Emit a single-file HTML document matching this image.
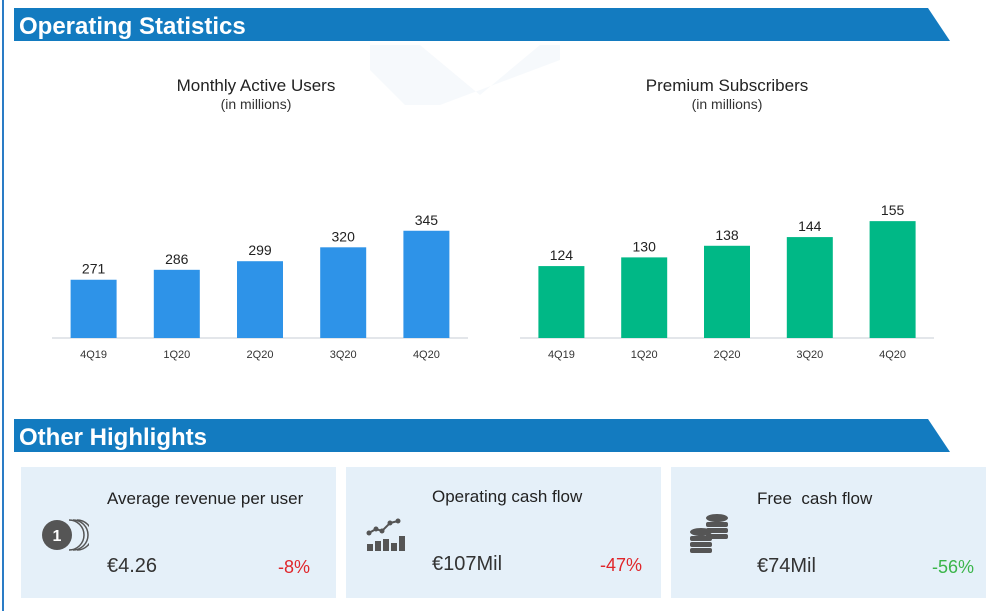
<!DOCTYPE html>
<html><head><meta charset="utf-8">
<style>
body{margin:0;width:998px;height:611px;background:#fff;font-family:"Liberation Sans",sans-serif;overflow:hidden;position:relative}
.abs{position:absolute}
.card{position:absolute;top:467px;width:315px;height:131px;background:#e5f0f9}
.ct{position:absolute;left:86px;top:22px;font-size:17px;color:#222}
.cv{position:absolute;left:86px;top:88px;font-size:20px;color:#333}
.cp{position:absolute;right:26px;top:90px;font-size:18px}
</style></head><body>
<div class="abs" style="left:2px;top:0;width:2px;height:611px;background:#2a7cc6"></div>
<svg class="abs" style="left:0;top:0" width="998" height="611">
<polygon points="370,45 420,45 480,95 540,45 560,45 560,60 440,105 405,105 370,70" fill="#f6f9fc"/>
<polygon points="14,8 928,8 950,41 14,41" fill="#137bc0"/>
<polygon points="14,419 928,419 950,452 14,452" fill="#137bc0"/>
<text x="19" y="34" font-size="24" font-weight="bold" fill="#fff" font-family="Liberation Sans">Operating Statistics</text>
<text x="19" y="445" font-size="24" font-weight="bold" fill="#fff" font-family="Liberation Sans">Other Highlights</text>
<text x="256" y="91" font-size="17" text-anchor="middle" fill="#222" font-family="Liberation Sans">Monthly Active Users</text>
<text x="256" y="109" font-size="14" text-anchor="middle" fill="#333" font-family="Liberation Sans">(in millions)</text>
<text x="727" y="91" font-size="17" text-anchor="middle" fill="#222" font-family="Liberation Sans">Premium Subscribers</text>
<text x="727" y="109" font-size="14" text-anchor="middle" fill="#333" font-family="Liberation Sans">(in millions)</text>
<g id="charts"></g>
</svg>
<div class="card" style="left:21px">
<svg class="abs" style="left:18px;top:50px" width="50" height="36"><path d="M30,3 a15,15 0 0 1 0,30" fill="none" stroke="#555" stroke-width="1.5"/><path d="M34,3 a15,15 0 0 1 0,30" fill="none" stroke="#555" stroke-width="1.5"/><path d="M38,3 a15,15 0 0 1 0,30" fill="none" stroke="#555" stroke-width="1.5"/><circle cx="18" cy="18" r="15" fill="#555"/><text x="18" y="24" font-size="16" font-weight="bold" fill="#fff" text-anchor="middle" font-family="Liberation Sans">1</text></svg>
<div class="ct">Average revenue per user</div>
<div class="cv">€4.26</div>
<div class="cp" style="color:#e0262b">-8%</div></div>
<div class="card" style="left:346px">
<svg class="abs" style="left:20px;top:48px" width="40" height="40"><polyline points="3,18 10,14 16,16 24,8 32,6" fill="none" stroke="#555" stroke-width="2"/><g fill="#555"><circle cx="3" cy="18" r="2.5"/><circle cx="10" cy="14" r="2.5"/><circle cx="16" cy="16" r="2.5"/><circle cx="24" cy="8" r="2.5"/><circle cx="32" cy="6" r="2.5"/><rect x="1" y="29" width="6" height="7"/><rect x="9" y="26" width="6" height="10"/><rect x="17" y="24" width="6" height="12"/><rect x="25" y="28" width="6" height="8"/><rect x="33" y="21" width="6" height="15"/></g></svg>
<div class="ct" style="top:20px">Operating cash flow</div>
<div class="cv" style="top:86px">€107Mil</div>
<div class="cp" style="top:88px;right:19px;color:#e0262b">-47%</div></div>
<div class="card" style="left:671px">
<svg class="abs" style="left:18px;top:46px" width="44" height="42"><g fill="#555"><ellipse cx="28" cy="5" rx="11" ry="4"/><rect x="17" y="9" width="22" height="5" rx="2"/><rect x="17" y="15" width="22" height="5" rx="2"/><rect x="17" y="21" width="22" height="5" rx="2"/><ellipse cx="12" cy="19" rx="11" ry="4"/><rect x="1" y="23" width="22" height="5" rx="2"/><rect x="1" y="29" width="22" height="5" rx="2"/><rect x="1" y="35" width="22" height="5" rx="2"/></g></svg>
<div class="ct">Free&nbsp; cash flow</div>
<div class="cv">€74Mil</div>
<div class="cp" style="right:12px;color:#3bb54a">-56%</div></div>
<script>
const categories=["4Q19","1Q20","2Q20","3Q20","4Q20"];
const mauValues=[271,286,299,320,345];
const subsValues=[124,130,138,144,155];
const NS="http://www.w3.org/2000/svg";
const g=document.getElementById("charts");
function mk(t,a){const e=document.createElementNS(NS,t);for(const k in a)e.setAttribute(k,a[k]);g.appendChild(e);return e;}
function drawChart(vals,x0,x1,baseY,v0,scale,color,prefix){
  const ax=mk("line",{x1:x0,x2:x1,y1:baseY,y2:baseY,stroke:"#e3e6ea","stroke-width":2});
  
  
  const band=(x1-x0)/vals.length;
  vals.forEach((v,i)=>{
    const cx=x0+band*(i+0.5);
    const y=baseY-(v-v0)*scale;
    const r=mk("rect",{x:cx-23,y:y,width:46,height:baseY-y,fill:color});
    
    
    const t=mk("text",{x:cx,y:y-6,"font-size":14,"text-anchor":"middle",fill:"#222","font-family":"Liberation Sans"});
    t.textContent=v;
    
    
    const c=mk("text",{x:cx,y:baseY+20,"font-size":11,"text-anchor":"middle",fill:"#333","font-family":"Liberation Sans"});
    c.textContent=categories[i];
    
    
  });
}
drawChart(mauValues,52,468,338,183,0.662,"#2e93e8","mau");
drawChart(subsValues,520,934,338,74.4,1.45,"#00b886","subs");
</script>
</body></html>
